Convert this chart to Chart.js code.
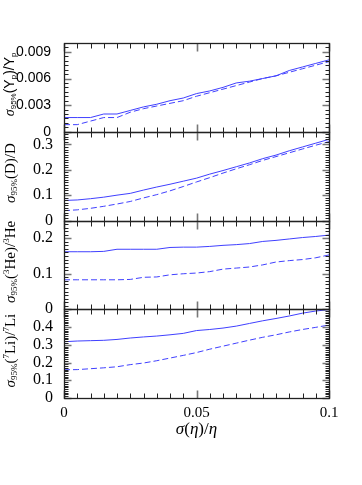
<!DOCTYPE html>
<html>
<head>
<meta charset="utf-8">
<script src="https://cdn.jsdelivr.net/npm/chart.js@4.4.1/dist/chart.umd.min.js"></script>
<style>
  html, body { margin: 0; padding: 0; background: #fff; }
  #c { display: block; }
</style>
</head>
<body>
<canvas id="c" width="362" height="485"></canvas>
<script>
// sigma(eta)/eta sample points
const etaErr = [0, 0.005, 0.01, 0.015, 0.02, 0.025, 0.03, 0.035, 0.04, 0.045, 0.05,
                0.055, 0.06, 0.065, 0.07, 0.075, 0.08, 0.085, 0.09, 0.095, 0.1];

// Yp
const ypSolid  = [0.0016, 0.0016, 0.0016, 0.0020, 0.0020, 0.0024, 0.0028, 0.0031, 0.0035, 0.0038, 0.0043,
                  0.0046, 0.0050, 0.0055, 0.0057, 0.0060, 0.0063, 0.0069, 0.0073, 0.0077, 0.0081];
const ypDashed = [0.0008, 0.0008, 0.0012, 0.0016, 0.0016, 0.0022, 0.0026, 0.0029, 0.0032, 0.0035, 0.0040,
                  0.0044, 0.0048, 0.0052, 0.0056, 0.0060, 0.0063, 0.0067, 0.0071, 0.0075, 0.0079];
// D
const dSolid   = [0.079, 0.081, 0.086, 0.092, 0.100, 0.107, 0.120, 0.132, 0.143, 0.155, 0.167,
                  0.183, 0.197, 0.212, 0.227, 0.244, 0.258, 0.275, 0.290, 0.305, 0.320];
const dDashed  = [0.039, 0.042, 0.048, 0.056, 0.065, 0.075, 0.089, 0.102, 0.117, 0.134, 0.152,
                  0.169, 0.187, 0.204, 0.220, 0.237, 0.252, 0.267, 0.282, 0.297, 0.311];
// 3He
const he3Solid  = [0.162, 0.162, 0.162, 0.163, 0.169, 0.169, 0.169, 0.169, 0.174, 0.175, 0.175,
                   0.177, 0.180, 0.182, 0.185, 0.191, 0.194, 0.198, 0.202, 0.205, 0.209];
const he3Dashed = [0.083, 0.083, 0.083, 0.083, 0.083, 0.084, 0.090, 0.091, 0.097, 0.100, 0.102,
                   0.106, 0.113, 0.116, 0.119, 0.125, 0.133, 0.137, 0.140, 0.145, 0.153];
// 7Li
const li7Solid  = [0.317, 0.321, 0.323, 0.325, 0.330, 0.338, 0.344, 0.349, 0.356, 0.364, 0.380,
                   0.386, 0.394, 0.405, 0.420, 0.435, 0.448, 0.462, 0.478, 0.490, 0.498];
const li7Dashed = [0.159, 0.160, 0.165, 0.170, 0.176, 0.188, 0.197, 0.210, 0.225, 0.240, 0.256,
                   0.275, 0.292, 0.309, 0.326, 0.342, 0.356, 0.372, 0.386, 0.398, 0.411];

// tick labels
const xTicks = [0, 0.05, 0.1];
const xTickLabels = ['0', '0.05', '0.1'];
const ypTicks = [0, 0.003, 0.006, 0.009];
const ypTickLabels = ['0', '0.003', '0.006', '0.009'];
const dTicks = [0, 0.1, 0.2, 0.3];
const dTickLabels = ['0', '0.1', '0.2', '0.3'];
const he3Ticks = [0, 0.1, 0.2];
const he3TickLabels = ['0', '0.1', '0.2'];
const li7Ticks = [0, 0.1, 0.2, 0.3, 0.4];
const li7TickLabels = ['0', '0.1', '0.2', '0.3', '0.4'];

const LINE = '#4040ff';
const SERIF = '"Liberation Serif", "DejaVu Serif", serif';
const SANS = '"Liberation Sans", Arial, sans-serif';

// top to bottom
const panels = [
  { id: 'yYp', max: 0.01, ticks: ypTicks, labels: ypTickLabels, minor: 0.0005, family: SANS, size: 14,
    solid: ypSolid, dashed: ypDashed,
    title: [['σ', 'i'], ['95%', 'sub'], ['(Y', 'n'], ['p', 'sub'], [')/Y', 'n'], ['p', 'sub']] },
  { id: 'yD', max: 0.35, ticks: dTicks, labels: dTickLabels, minor: 0.01, family: SERIF, size: 16,
    solid: dSolid, dashed: dDashed,
    title: [['σ', 'i'], ['95%', 'sub'], ['(D)/D', 'n']] },
  { id: 'yHe', max: 0.25, ticks: he3Ticks, labels: he3TickLabels, minor: 0.01, family: SERIF, size: 16,
    solid: he3Solid, dashed: he3Dashed,
    title: [['σ', 'i'], ['95%', 'sub'], ['(', 'n'], ['3', 'sup'], ['He)/', 'n'], ['3', 'sup'], ['He', 'n']] },
  { id: 'yLi', max: 0.5, ticks: li7Ticks, labels: li7TickLabels, minor: 0.01, family: SERIF, size: 16,
    solid: li7Solid, dashed: li7Dashed,
    title: [['σ', 'i'], ['95%', 'sub'], ['(', 'n'], ['7', 'sup'], ['Li)/', 'n'], ['7', 'sup'], ['Li', 'n']] }
];

const toPoints = arr => etaErr.map((x, i) => ({ x: x, y: arr[i] }));

const datasets = [];
panels.forEach(p => {
  datasets.push({ data: toPoints(p.solid), yAxisID: p.id, borderColor: LINE, borderWidth: 1,
                  pointRadius: 0, fill: false, tension: 0 });
  datasets.push({ data: toPoints(p.dashed), yAxisID: p.id, borderColor: LINE, borderWidth: 1,
                  borderDash: [6, 3], pointRadius: 0, fill: false, tension: 0 });
});

const scales = {
  x: {
    type: 'linear', position: 'bottom', min: 0, max: 0.1,
    grid: { display: false, drawTicks: false }, border: { display: false },
    afterBuildTicks: s => { s.ticks = xTicks.map(v => ({ value: v })); },
    ticks: { callback: (v, i) => xTickLabels[i], font: { family: SERIF, size: 15 },
             color: '#000', padding: 6, maxRotation: 0, autoSkip: false },
    afterFit: s => { s.height = 87; }
  }
};
// bottom panel first so the last one ends up on top of the stack
panels.slice().reverse().forEach(p => {
  scales[p.id] = {
    type: 'linear', position: 'left', stack: 'nuc', stackWeight: 1, min: 0, max: p.max,
    grid: { display: false, drawTicks: false }, border: { display: false },
    afterBuildTicks: s => { s.ticks = p.ticks.map(v => ({ value: v })); },
    ticks: { callback: (v, i) => p.labels[i], font: { family: p.family, size: p.size },
             color: '#000', padding: p.family === SANS ? 13 : 11, autoSkip: false },
    afterFit: s => { s.width = 64; }
  };
});

function drawRich(ctx, parts, size, family, x, y, align) {
  const fontFor = t => {
    if (t === 'i') return 'italic ' + size + 'px ' + SERIF;
    if (t === 'sub' || t === 'sup') return Math.round(size * 0.6) + 'px ' + family;
    return size + 'px ' + family;
  };
  let w = 0;
  parts.forEach(([s, t]) => { ctx.font = fontFor(t); w += ctx.measureText(s).width; });
  let cx = align === 'center' ? x - w / 2 : x;
  ctx.textBaseline = 'alphabetic';
  ctx.textAlign = 'left';
  parts.forEach(([s, t]) => {
    ctx.font = fontFor(t);
    const dy = t === 'sub' ? size * 0.16 : (t === 'sup' ? -size * 0.38 : 0);
    ctx.fillText(s, cx, y + dy);
    cx += ctx.measureText(s).width;
  });
}

const framePlugin = {
  id: 'frame',
  afterDatasetsDraw(chart) {
    const ctx = chart.ctx;
    const area = chart.chartArea;
    const xs = chart.scales.x;
    const left = Math.round(area.left) + 0.5;
    const right = Math.round(area.right) + 0.5;
    ctx.save();
    panels.forEach(p => {
      const ys = chart.scales[p.id];
      const top = Math.round(ys.top) + 0.5;
      const bottom = Math.round(ys.bottom) + 0.5;

      // x ticks top & bottom
      for (let i = 0; i <= 20; i++) {
        const px = Math.round(xs.getPixelForValue(i * 0.005)) + 0.5;
        const major = i % 10 === 0;
        const len = major ? 8 : 5;
        ctx.strokeStyle = major ? '#777' : '#222';
        ctx.lineWidth = major ? 1.6 : 1;
        ctx.beginPath();
        ctx.moveTo(px, top); ctx.lineTo(px, top + len);
        ctx.moveTo(px, bottom); ctx.lineTo(px, bottom - len);
        ctx.stroke();
      }
      // y ticks left & right
      const n = Math.round(p.max / p.minor);
      for (let k = 0; k <= n; k++) {
        const v = k * p.minor;
        const py = Math.round(ys.getPixelForValue(v)) + 0.5;
        const major = p.ticks.some(t => Math.abs(t - v) < 1e-9);
        const len = major ? 7 : 4;
        ctx.strokeStyle = major ? '#777' : '#222';
        ctx.lineWidth = major ? 1.6 : 1;
        ctx.beginPath();
        ctx.moveTo(left, py); ctx.lineTo(left + len, py);
        ctx.moveTo(right, py); ctx.lineTo(right - len, py);
        ctx.stroke();
      }
      ctx.strokeStyle = '#222';
      ctx.lineWidth = 1.3;
      ctx.strokeRect(left, top, right - left, bottom - top);
    });
    ctx.restore();
  },
  afterDraw(chart) {
    const ctx = chart.ctx;
    const area = chart.chartArea;
    ctx.save();
    ctx.fillStyle = '#000';
    panels.forEach(p => {
      const ys = chart.scales[p.id];
      const cy = (ys.top + ys.bottom) / 2 - 3;
      ctx.save();
      ctx.translate(p.family === SANS ? 14 : 15, cy);
      ctx.rotate(-Math.PI / 2);
      drawRich(ctx, p.title, p.family === SANS ? 14 : 15, p.family, 0, 0, 'center');
      ctx.restore();
    });
    drawRich(ctx, [['σ', 'i'], ['(', 'n'], ['η', 'i'], [')/', 'n'], ['η', 'i']], 17, SERIF,
             (area.left + area.right) / 2, 434, 'center');
    ctx.restore();
  }
};

new Chart(document.getElementById('c').getContext('2d'), {
  type: 'line',
  data: { datasets: datasets },
  options: {
    responsive: false,
    animation: false,
    devicePixelRatio: 1,
    layout: { padding: { left: 0, top: 43, right: 33, bottom: 0 } },
    plugins: { legend: { display: false }, tooltip: { enabled: false } },
    scales: scales
  },
  plugins: [framePlugin]
});
</script>
</body>
</html>
